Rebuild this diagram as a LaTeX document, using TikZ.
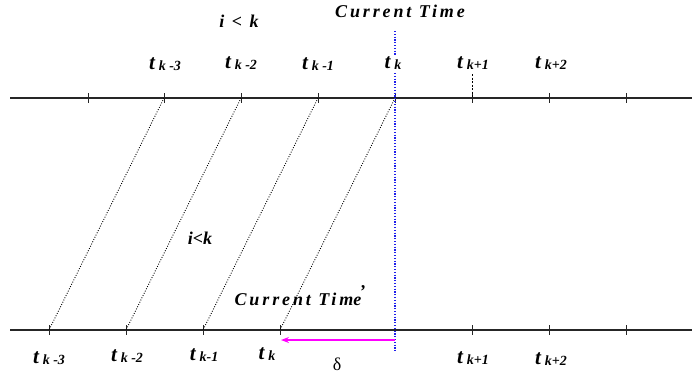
\documentclass[tikz,border=0pt]{standalone}
\usepackage{fontspec}
\setmainfont{Liberation Serif}
\usetikzlibrary{arrows.meta}
\definecolor{mag}{RGB}{255,0,255}
\definecolor{dblue}{RGB}{30,30,235}
\newcommand{\tlab}[1]{{\fontsize{21}{21}\selectfont\bfseries\itshape t}\kern4pt{\fontsize{14}{14}\selectfont\bfseries\itshape\raisebox{-1.5pt}{#1}}}
\tikzset{
  axis/.style={line width=1.1pt, draw=black!85},
  tick/.style={line width=0.9pt, draw=black!85},
  slant/.style={line width=0.9pt, dash pattern=on 0.9pt off 1.6pt},
  lab/.style={inner sep=1pt, anchor=base},
  big/.style={font=\fontsize{18}{18}\selectfont\bfseries\itshape}
}
\begin{document}
\begin{tikzpicture}[x=1pt,y=-1pt]
\useasboundingbox (0,0) rectangle (693,375);
% axes
\coordinate (TL) at (10,98);
\coordinate (TR) at (692,98);
\coordinate (BL) at (10,330);
\coordinate (BR) at (692,330);
\draw[axis] (TL) -- (TR);
\draw[axis] (BL) -- (BR);
% top ticks
\foreach \n/\x in {1/88,2/164,3/241,4/318,5/395,6/472,7/549,8/626}{
  \coordinate (u\n) at (\x,98);
  \draw[tick] (\x,93) -- (\x,103);
}
% bottom ticks
\foreach \n/\x in {1/49,2/126,3/203,4/280,6/472,7/549,8/626}{
  \coordinate (d\n) at (\x,330);
  \draw[tick] (\x,325) -- (\x,335);
}
% slanted dotted lines
\draw[slant] (u2) -- (d1);
\draw[slant] (u3) -- (d2);
\draw[slant] (u4) -- (d3);
\draw[slant] (u5) -- (d4);
% small dashed line above t_{k+1}
\coordinate (k1top) at (472,74);
\draw[line width=0.7pt, dash pattern=on 2pt off 1.5pt] (k1top) -- (u6);
% blue current time line
\coordinate (bt) at (395,31);
\coordinate (bb) at (395,352);
\draw[dblue, line width=1.1pt, dash pattern=on 1.2pt off 1.6pt] (bt) -- (bb);
% delta arrow
\coordinate (ds) at (395,340);
\coordinate (de) at (281,340);
\draw[mag, line width=1.4pt, -{Stealth[length=8pt,width=6pt]}] (ds) -- (de);
% top labels
\node[big, lab] (ik1) at (239,27) {i \,<\, k};
\node[big, lab] (ct1) at (400,17) {\addfontfeature{LetterSpace=16}Current Time};
\node[lab] (a3) at (165,69) {\tlab{k -3}};
\node[lab] (a2) at (241,68) {\tlab{k -2}};
\node[lab] (a1) at (318,69) {\tlab{k -1}};
\node[lab, fill=white, inner xsep=0pt] (a0) at (393,68) {\tlab{k}};
\node[lab] (ap1) at (473,68) {\tlab{k+1}};
\node[lab] (ap2) at (551,68) {\tlab{k+2}};
% bottom labels
\node[lab] (b3) at (49,363) {\tlab{k -3}};
\node[lab] (b2) at (127,361) {\tlab{k -2}};
\node[lab] (b1) at (204,360) {\tlab{k-1}};
\node[lab] (b0) at (267,359) {\tlab{k}};
\node[lab] (bp1) at (473,363) {\tlab{k+1}};
\node[lab] (bp2) at (551,364) {\tlab{k+2}};
\node[lab, font=\fontsize{18}{18}\selectfont] (dl) at (337,370) {δ};
\node[big, lab] (ik2) at (200,244) {i<k};
\node[big, lab] (ct2) at (298,305) {{\addfontfeature{LetterSpace=16}Current Tim}e\llap{\raisebox{8pt}{’}\kern-4pt}};
\end{tikzpicture}
\end{document}
